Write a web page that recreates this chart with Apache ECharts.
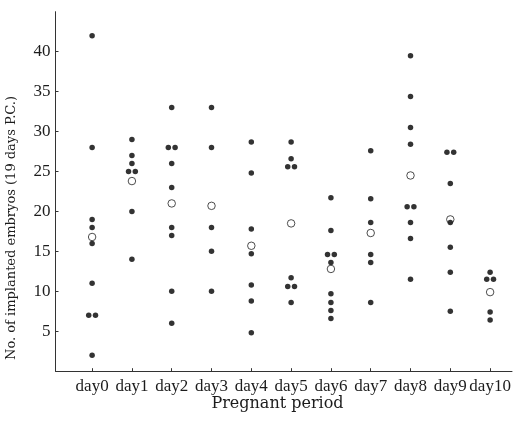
<!DOCTYPE html>
<html>
<head>
<meta charset="utf-8">
<title>Implanted embryos by pregnant period</title>
<script src="https://cdn.jsdelivr.net/npm/echarts@6/dist/echarts.min.js"></script>
<style>
  html, body { margin: 0; padding: 0; background: #fff; }
  #chart { width: 523px; height: 422px; }
</style>
</head>
<body>
<div id="chart"></div>
<script>
// Category labels of the pregnant period
const dayLabels = ['day0', 'day1', 'day2', 'day3', 'day4', 'day5', 'day6', 'day7', 'day8', 'day9', 'day10'];

// Individual counts of implanted embryos (19 days P.C.), one list per day
const day0 = [42, 28, 19, 18, 16, 11, 7, 7, 2];
const day1 = [29, 27, 26, 25, 25, 20, 14];
const day2 = [33, 28, 28, 26, 23, 18, 17, 10, 6];
const day3 = [33, 28, 18, 15, 10];
const day4 = [28.7, 24.8, 17.8, 14.7, 10.8, 8.8, 4.8];
const day5 = [28.7, 26.6, 25.6, 25.6, 11.7, 10.6, 10.6, 8.6];
const day6 = [21.7, 17.6, 14.6, 14.6, 13.6, 9.7, 8.6, 7.6, 6.6];
const day7 = [27.6, 21.6, 18.6, 14.6, 13.6, 8.6];
const day8 = [39.5, 34.4, 30.5, 28.4, 20.6, 20.6, 18.6, 16.6, 11.5];
const day9 = [27.4, 27.4, 23.5, 18.6, 15.5, 12.4, 7.5];
const day10 = [12.4, 11.5, 11.5, 7.4, 6.4];

// Group means (open circles)
const meanCounts = [16.8, 23.8, 21.0, 20.7, 15.7, 18.5, 12.8, 17.3, 24.5, 19.0, 9.9];

// Y axis tick values
const yTicks = [5, 10, 15, 20, 25, 30, 35, 40];

const perDay = [day0, day1, day2, day3, day4, day5, day6, day7, day8, day9, day10];
const dayIndex = dayLabels.map((_, i) => i);

// Equal values within a day are drawn side by side
const PAIR_SHIFT = 0.085;
const individualPoints = [];
perDay.forEach((values, d) => {
  const seen = {};
  values.forEach(v => { seen[v] = (seen[v] || 0) + 1; });
  const used = {};
  values.forEach(v => {
    const n = seen[v];
    const k = used[v] || 0;
    used[v] = k + 1;
    const shift = n > 1 ? (k - (n - 1) / 2) * 2 * PAIR_SHIFT : 0;
    individualPoints.push([d + shift, v]);
  });
});
const meanPoints = meanCounts.map((m, d) => [d, m]);

const serif = 'Liberation Serif';
const wideSerif = 'DejaVu Serif';
const ink = '#1c1c1c';
const axisColor = '#333';

const chart = echarts.init(document.getElementById('chart'), null, { renderer: 'canvas' });
chart.setOption({
  backgroundColor: '#fff',
  animation: false,
  grid: { left: 55.5, right: 11, top: 11.7, bottom: 50.8, containLabel: false },
  xAxis: {
    type: 'value',
    min: -0.92,
    max: 10.55,
    splitLine: { show: false },
    axisLine: { show: true, onZero: false, lineStyle: { color: axisColor, width: 1 } },
    axisTick: { show: true, inside: true, length: 3, customValues: dayIndex, lineStyle: { color: axisColor } },
    axisLabel: {
      customValues: dayIndex,
      hideOverlap: false,
      formatter: v => dayLabels[Math.round(v)],
      fontFamily: serif, fontSize: 17, color: ink, margin: 7
    }
  },
  yAxis: {
    type: 'value',
    min: 0,
    max: 45,
    interval: 5,
    splitLine: { show: false },
    axisLine: { show: true, onZero: false, lineStyle: { color: axisColor, width: 1 } },
    axisTick: { show: true, inside: true, length: 3, customValues: yTicks, lineStyle: { color: axisColor } },
    axisLabel: {
      customValues: yTicks,
      fontFamily: serif, fontSize: 17, color: ink, margin: 5
    }
  },
  graphic: [
    {
      type: 'text',
      x: 277.5, y: 404,
      style: {
        text: 'Pregnant period',
        fontFamily: wideSerif, fontSize: 16, fill: ink,
        align: 'center', verticalAlign: 'middle'
      }
    },
    {
      type: 'text',
      x: 12, y: 228,
      rotation: Math.PI / 2,
      style: {
        text: 'No. of implanted embryos (19 days P.C.)',
        fontFamily: wideSerif, fontSize: 13, fill: ink,
        align: 'center', verticalAlign: 'middle'
      }
    }
  ],
  series: [
    {
      name: 'Individual',
      type: 'scatter',
      data: individualPoints,
      symbol: 'circle',
      symbolSize: 5.5,
      itemStyle: { color: '#000' },
      z: 2
    },
    {
      name: 'Mean',
      type: 'scatter',
      data: meanPoints,
      symbol: 'circle',
      symbolSize: 7.5,
      itemStyle: { color: 'rgba(255,255,255,0)', borderColor: '#222', borderWidth: 1 },
      z: 3
    }
  ]
});
</script>
</body>
</html>
